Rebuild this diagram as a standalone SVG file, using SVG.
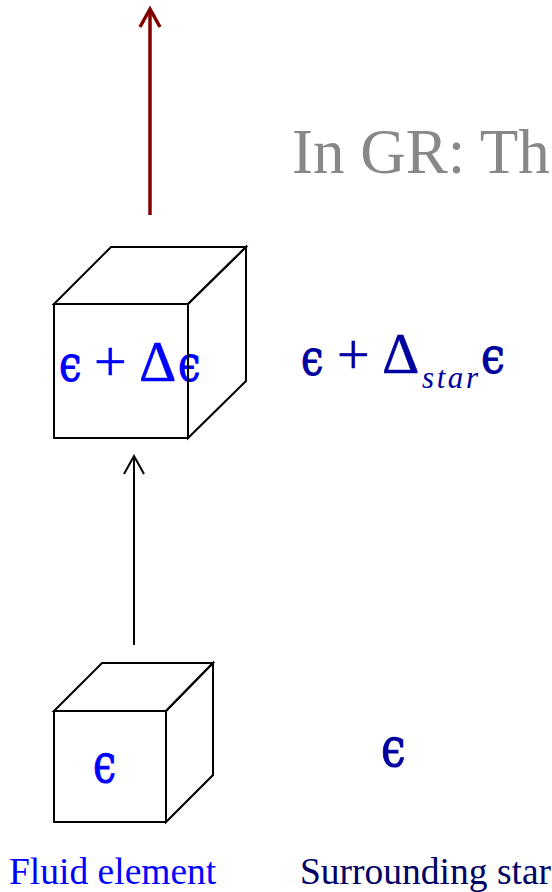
<svg xmlns="http://www.w3.org/2000/svg" width="552" height="892" viewBox="0 0 552 892">
<style>
.cube{fill:none;stroke:#000;stroke-width:2;stroke-linejoin:miter}
.ser{font-family:"Liberation Serif","Times New Roman",serif}
.eps{font-family:"DejaVu Serif","Liberation Serif",serif;font-size:50px}
.op{font-family:"Liberation Serif","Times New Roman",serif;font-size:58px;stroke-width:0.5}
.b1{fill:#0000FF;stroke:#0000FF}
.b2{fill:#0000A0;stroke:#0000A0}
</style>
<rect width="552" height="892" fill="#fff"/>
<g id="title">
<text class="ser" x="292" y="173" font-size="63" fill="#888888">In GR: Th</text>
</g>
<g id="connectors">
<g id="force-arrow" stroke="#800000" stroke-width="3.5" fill="none">
<line x1="150" y1="215" x2="150" y2="9"/>
<polyline points="140,27 150,9 160,27"/>
</g>
<g id="move-arrow" stroke="#000" stroke-width="2" fill="none">
<line x1="134" y1="645" x2="134" y2="457"/>
<polyline points="124,474 134,456 144,474"/>
</g>
</g>
<g id="cube-upper">
<text class="eps b1" stroke="none" transform="translate(59,381) scale(0.8,1)">ϵ</text>
<text class="op b1" x="94" y="381">+</text>
<text class="op b1" x="139" y="381">Δ</text>
<text class="eps b1" stroke="none" transform="translate(178,381) scale(0.8,1)">ϵ</text>
<rect class="cube" x="54" y="304" width="134" height="134"/>
<polygon class="cube" points="54,304 111,247 246,247 188,304"/>
<polygon class="cube" points="188,304 246,247 246,381 188,438"/>
</g>
<g id="star-upper">
<text class="eps b2" stroke="none" transform="translate(301,375) scale(0.8,1)">ϵ</text>
<text class="op b2" x="337" y="374">+</text>
<text class="op b2" x="382" y="373">Δ</text>
<text class="ser" fill="#0000A0" font-style="italic" font-size="31" x="422" y="388" textLength="56">star</text>
<text class="eps b2" stroke="none" transform="translate(481,373) scale(0.85,1)">ϵ</text>
</g>
<g id="cube-lower">
<text class="eps b1" stroke="none" style="font-size:55px" transform="translate(93,782) scale(0.75,1)">ϵ</text>
<rect class="cube" x="54" y="711" width="112" height="111"/>
<polygon class="cube" points="54,711 102,663 213,663 166,711"/>
<polygon class="cube" points="166,711 213,663 213,775 166,822"/>
</g>
<g id="star-lower">
<text class="eps b2" stroke="none" style="font-size:55px" transform="translate(381,766) scale(0.8,1)">ϵ</text>
</g>
<g id="labels">
<text class="ser" x="9" y="884" font-size="37.5" fill="#0000FF">Fluid element</text>
<text class="ser" x="300" y="884" font-size="37.5" fill="#000066">Surrounding star</text>
</g>
</svg>
